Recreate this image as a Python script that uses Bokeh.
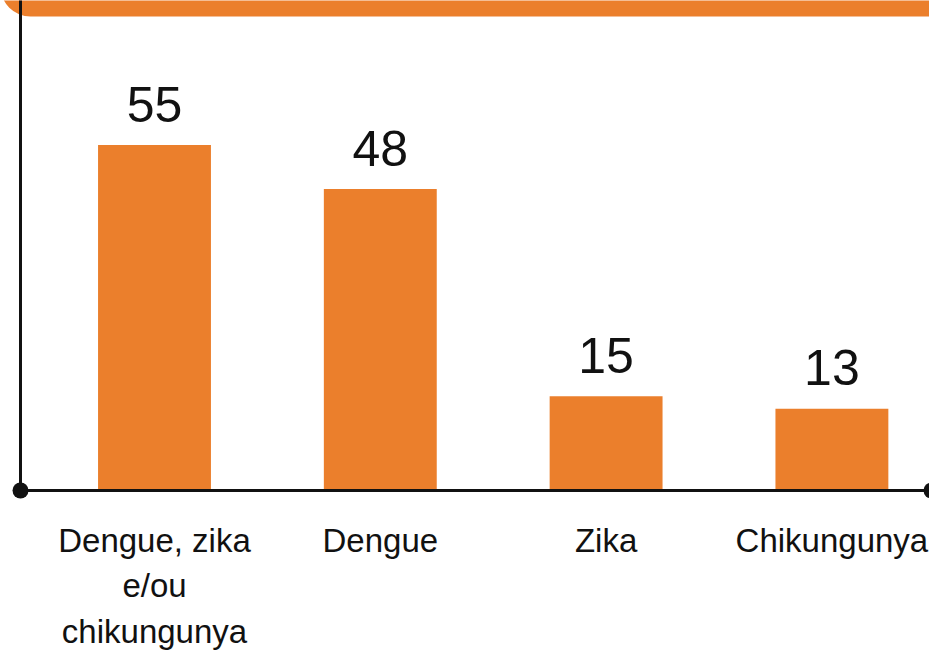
from bokeh.plotting import figure
from bokeh.models import Range1d, ColumnDataSource
from bokeh.core.properties import value
from bokeh.embed import file_html
from bokeh.resources import INLINE

# ---- data ----
categories = ["Dengue, zika\ne/ou\nchikungunya", "Dengue", "Zika", "Chikungunya"]
values = [55, 48, 15, 13]
value_labels = [str(v) for v in values]

ORANGE = "#EB7F2C"
INK = "#111111"

positions = list(range(len(categories)))
source = ColumnDataSource(dict(x=positions, top=values, label=value_labels,
                               cat=categories, zero=[0] * len(values)))

# ---- layout (canvas pixels -> data units) ----
W, H = 929, 652
px_per_cat = 225.8
px_per_unit = 6.28
first_center_px = 154
baseline_px = 490
x_start = -first_center_px / px_per_cat
x_end = x_start + W / px_per_cat
y_end = baseline_px / px_per_unit
y_start = y_end - H / px_per_unit

p = figure(width=W, height=H, output_backend="svg", toolbar_location=None,
           x_range=Range1d(x_start, x_end), y_range=Range1d(y_start, y_end),
           min_border=0, x_axis_location=None, y_axis_location=None)
p.outline_line_color = None
p.grid.visible = False
p.background_fill_color = "white"
p.border_fill_color = "white"

# banner at top (cut-off title band)
p.quad(left=[x_start], right=[x_end + 1], bottom=[(baseline_px - 16) / px_per_unit],
       top=[y_end + 20], fill_color=ORANGE, line_color=None,
       border_radius=(0, 0, 0, 30))

# bars
p.vbar(x="x", top="top", bottom=0, width=0.5, source=source,
       fill_color=ORANGE, line_color=None)

# axis lines with end dots
left_x = (20 - first_center_px) / px_per_cat
right_x = (931 - first_center_px) / px_per_cat
p.segment(x0=[left_x], y0=[0], x1=[left_x], y1=[y_end + 5], line_color=INK, line_width=3)
p.segment(x0=[left_x], y0=[0], x1=[right_x], y1=[0], line_color=INK, line_width=3)
p.scatter(x=[left_x, right_x], y=[0, 0], size=16, fill_color=INK, line_color=None)

# value labels
p.text(x="x", y="top", text="label", source=source, text_align="center",
       text_baseline="alphabetic", y_offset=-41,
       text_font=value("Liberation Sans"), text_font_size="50px",
       text_color=INK)

# category labels
p.text(x="x", y="zero", text="cat", source=source, text_align="center",
       text_baseline="top", y_offset=31, text_line_height=1.24,
       text_font=value("Liberation Sans"), text_font_size="33px",
       text_color=INK)

open("out.html", "w").write(file_html(p, INLINE))
